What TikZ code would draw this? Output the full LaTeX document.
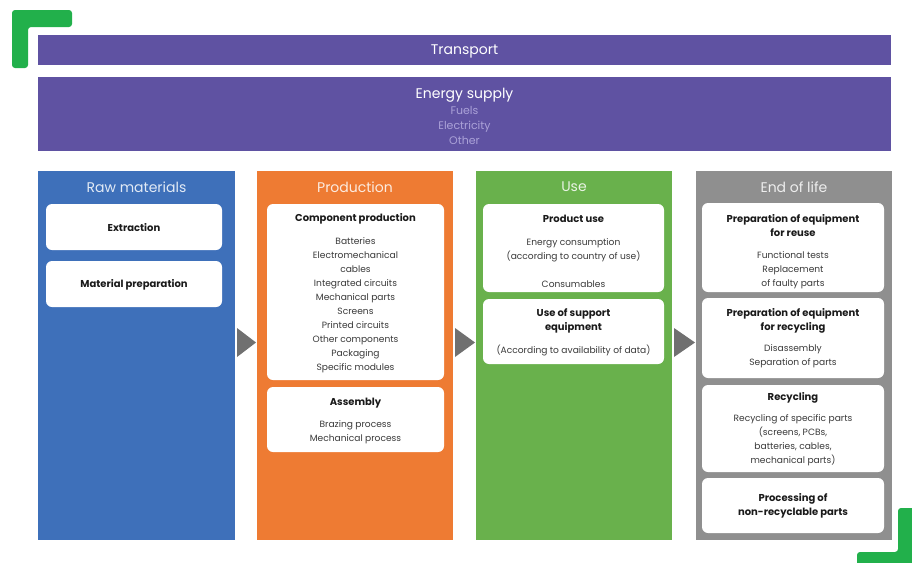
\documentclass[tikz,border=0pt]{standalone}
\usepackage{fontspec}
\setmainfont{Poppins}
\usetikzlibrary{calc}
\definecolor{cpurple}{HTML}{5F52A2}
\definecolor{cblue}{HTML}{3E70BA}
\definecolor{corange}{HTML}{EE7B33}
\definecolor{cgreen}{HTML}{69B14C}
\definecolor{cgrey}{HTML}{8F8F8F}
\definecolor{ccorner}{HTML}{22B04B}
\definecolor{ctri}{HTML}{707070}
\definecolor{clav}{HTML}{ABA2D8}
\definecolor{chead}{HTML}{1A1A1A}
\definecolor{cbody}{HTML}{3A3A3A}
\tikzset{
  band/.style={fill=cpurple, draw=none, outer sep=0pt, inner sep=0pt, anchor=north west},
  col/.style={draw=none, outer sep=0pt, inner sep=0pt, anchor=north west, minimum height=369pt},
  coltitle/.style={font=\fontsize{14}{16}\selectfont, inner sep=0pt},
  wbox/.style={fill=white, draw=none, rounded corners=6pt, outer sep=0pt, inner sep=0pt, anchor=north west},
  hd/.style={font=\fontsize{10}{14}\selectfont\bfseries, text=chead, align=center, inner sep=0pt},
  bd/.style={font=\fontsize{9.1}{14}\selectfont, text=cbody, align=center, inner sep=0pt},
  tri/.style={fill=ctri},
}
\begin{document}
\begin{tikzpicture}[x=1pt,y=-1pt]
\useasboundingbox (0,0) rectangle (912,562);
% corners
\fill[ccorner, rounded corners=3pt] (12,10) -- (72,10) -- (72,27) -- (28,27) -- (28,68) -- (12,68) -- cycle;
\fill[ccorner, rounded corners=3pt] (898,508) -- (920,508) -- (920,570) -- (857,570) -- (857,552) -- (898,552) -- cycle;
% bands
\node[band, minimum width=853pt, minimum height=30pt] (transport) at (38,35) {};
\node[text=white, font=\fontsize{14}{16}\selectfont, inner sep=0pt] (transportt) at (464.5,51) {Transport};
\node[band, minimum width=853pt, minimum height=74pt] (energy) at (38,77) {};
\node[text=white, font=\fontsize{14}{16}\selectfont, inner sep=0pt] (energyt) at (464.5,95) {Energy supply};
\node[text=clav, font=\fontsize{11}{15}\selectfont, align=center, inner sep=0pt] (energyl) at (464.5,125) {Fuels\\Electricity\\Other};
% columns
\node[col, fill=cblue, minimum width=197pt] (raw) at (38,171) {};
\node[col, fill=corange, minimum width=196pt] (prod) at (257,171) {};
\node[col, fill=cgreen, minimum width=196pt] (use) at (476,171) {};
\node[col, fill=cgrey, minimum width=196pt] (eol) at (696,171) {};
\node[coltitle, text=white!85!cblue] (rawt) at (136.5,187) {Raw materials};
\node[coltitle, text=white!85!corange] (prodt) at (355,187) {Production};
\node[coltitle, text=white!85!cgreen] (uset) at (574,187) {Use};
\node[coltitle, text=white!85!cgrey] (eolt) at (794,187) {End of life};
% arrows
\foreach \a/\b in {raw/prod, prod/use, use/eol}{
  \fill[tri] ([xshift=2pt,yshift=27.5pt]\a.east) -- ([xshift=2pt,yshift=-1.5pt]\a.east) -- ([xshift=-1pt,yshift=13pt]\b.west) -- cycle;
}
% raw materials
\node[wbox, minimum width=176pt, minimum height=46pt] (extr) at (46,204) {};
\node[hd] (extrt) at ([yshift=-1pt]extr.center) {Extraction};
\node[wbox, minimum width=176pt, minimum height=46pt] (matp) at (46,261) {};
\node[hd] (matpt) at ([yshift=-1pt]matp.center) {Material preparation};
% production
\node[wbox, minimum width=177pt, minimum height=176pt] (comp) at (267,204) {};
\node[hd] (compt) at (355.5,219) {Component production};
\node[bd] (compb) at (355.5,305) {Batteries\\Electromechanical\\cables\\Integrated circuits\\Mechanical parts\\Screens\\Printed circuits\\Other components\\Packaging\\Specific modules};
\node[wbox, minimum width=177pt, minimum height=65pt] (asm) at (267,387) {};
\node[hd] (asmt) at (355.5,403) {Assembly};
\node[bd] (asmb) at (355.5,432) {Brazing process\\Mechanical process};
% use
\node[wbox, minimum width=181pt, minimum height=88pt] (puse) at (483,204) {};
\node[hd] (puset) at (573.5,219) {Product use};
\node[bd] (puseb) at (573.5,263) {Energy consumption\\(according to country of use)\\[14pt]Consumables};
\node[wbox, minimum width=181pt, minimum height=65pt] (supp) at (483,299) {};
\node[hd] (suppt) at (573.5,321) {Use of support\\equipment};
\node[bd] (suppb) at (573.5,350) {(According to availability of data)};
% end of life
\node[wbox, minimum width=182pt, minimum height=89pt] (reuse) at (702,203) {};
\node[hd] (reuset) at (793,226) {Preparation of equipment\\for reuse};
\node[bd] (reuseb) at (793,270) {Functional tests\\Replacement\\of faulty parts};
\node[wbox, minimum width=182pt, minimum height=80pt] (recp) at (702,298) {};
\node[hd] (recpt) at (793,321) {Preparation of equipment\\for recycling};
\node[bd] (recpb) at (793,356) {Disassembly\\Separation of parts};
\node[wbox, minimum width=182pt, minimum height=87pt] (recy) at (702,385) {};
\node[hd] (recyt) at (793,398) {Recycling};
\node[bd] (recyb) at (793,440) {Recycling of specific parts\\(screens, PCBs,\\batteries, cables,\\mechanical parts)};
\node[wbox, minimum width=182pt, minimum height=55pt] (proc) at (702,478) {};
\node[hd] (proct) at (793,506) {Processing of\\non-recyclable parts};
\end{tikzpicture}
\end{document}
